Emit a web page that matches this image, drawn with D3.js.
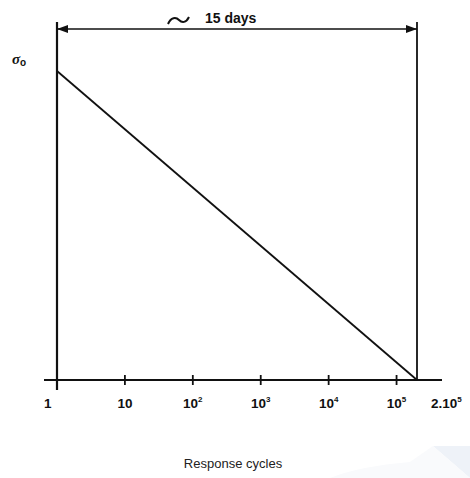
<!DOCTYPE html>
<html>
<head>
<meta charset="utf-8">
<script src="https://cdn.jsdelivr.net/npm/d3@7"></script>
<style>
html,body{margin:0;padding:0;background:#fff;}
svg{display:block;}
</style>
</head>
<body>
<svg id="chart" width="470" height="478"></svg>
<script>
// ---- data ----
const tickValues = [1, 10, 1e2, 1e3, 1e4, 1e5, 2e5];
const tickBase = ["1", "10", "10", "10", "10", "10", "2.10"];
const tickExp = ["", "", "2", "3", "4", "5", "5"];
const lineCycles = [1, 2e5];
const lineStress = [1, 0];
const spanStart = 1, spanEnd = 2e5;
const spanLabel = "15 days";
const xTitle = "Response cycles";
const yLabel = "σ";
const yLabelSub = "o";

// ---- drawing ----
const svg = d3.select("#chart");
const x = d3.scaleLog().domain([1, 2e5]).range([57, 417]);
const y = d3.scaleLinear().domain([0, 1]).range([380, 71]);
const ink = "#111";

// faint watermark
svg.append("path").attr("d", "M433,446 L470,446 L470,478 Z").attr("fill", "#eef2f8");
svg.append("path").attr("d", "M330,478 Q360,466 410,462 L433,446 L470,478 Z").attr("fill", "#f9fafc");

// x axis line
svg.append("line").attr("x1", 44).attr("x2", 442).attr("y1", y(0)).attr("y2", y(0))
  .attr("stroke", ink).attr("stroke-width", 2);

// ticks
svg.selectAll("line.tick").data(tickValues.slice(0, 6)).enter().append("line")
  .attr("class", "tick")
  .attr("x1", d => x(d)).attr("x2", d => x(d))
  .attr("y1", y(0) - 5).attr("y2", y(0) + 5)
  .attr("stroke", ink).attr("stroke-width", 1.8);

// tick labels
const lbl = svg.selectAll("text.tl").data(tickValues).enter().append("text")
  .attr("class", "tl")
  .attr("x", (d, i) => i === 0 ? x(d) - 13 : (i === 6 ? x(d) + 14 : x(d)))
  .attr("y", 408)
  .attr("text-anchor", (d, i) => (i === 0 || i === 6) ? "start" : "middle")
  .attr("font-family", "Liberation Sans, Arial, sans-serif")
  .attr("font-weight", "bold")
  .attr("font-size", 13.5)
  .attr("fill", ink);
lbl.append("tspan").text((d, i) => tickBase[i]);
lbl.append("tspan").attr("font-size", 8).attr("dy", -6).text((d, i) => tickExp[i]);

// vertical boundary lines
svg.append("line").attr("x1", x(spanStart)).attr("x2", x(spanStart)).attr("y1", 22).attr("y2", 390)
  .attr("stroke", ink).attr("stroke-width", 2.2);
svg.append("line").attr("x1", x(spanEnd)).attr("x2", x(spanEnd)).attr("y1", 22).attr("y2", y(0))
  .attr("stroke", ink).attr("stroke-width", 1.8);

// span arrow
const ay = 29;
svg.append("line").attr("x1", x(spanStart)).attr("x2", x(spanEnd)).attr("y1", ay).attr("y2", ay)
  .attr("stroke", ink).attr("stroke-width", 1.6);
svg.append("path").attr("d", `M${x(spanStart)},${ay} l11,-4 l0,8 Z`).attr("fill", ink);
svg.append("path").attr("d", `M${x(spanEnd)},${ay} l-11,-4 l0,8 Z`).attr("fill", ink);

// tilde
svg.append("path").attr("d", "M168,24 C171,17 176,17 179,20 C182,23 186,23 189,17")
  .attr("fill", "none").attr("stroke", ink).attr("stroke-width", 2);
svg.append("text").attr("x", 205).attr("y", 23)
  .attr("font-family", "Liberation Sans, Arial, sans-serif").attr("font-weight", "bold")
  .attr("font-size", 14).attr("fill", ink).text(spanLabel);

// y label
const yl = svg.append("text").attr("x", 12).attr("y", 64)
  .attr("font-family", "Liberation Serif, serif").attr("font-style", "italic").attr("font-weight", "bold")
  .attr("font-size", 15).attr("fill", ink);
yl.append("tspan").text(yLabel);
yl.append("tspan").attr("font-family", "Liberation Sans, sans-serif").attr("font-style", "normal")
  .attr("font-size", 10).attr("dy", 2).text(yLabelSub);

// data line
const line = d3.line().x(d => x(d[0])).y(d => y(d[1]));
svg.append("path").datum(lineCycles.map((c, i) => [c, lineStress[i]]))
  .attr("d", line).attr("fill", "none").attr("stroke", ink).attr("stroke-width", 1.8);

// x title
svg.append("text").attr("x", 233).attr("y", 468).attr("text-anchor", "middle")
  .attr("font-family", "Liberation Sans, Arial, sans-serif").attr("font-size", 13)
  .attr("fill", "#222").text(xTitle);
</script>
</body>
</html>
